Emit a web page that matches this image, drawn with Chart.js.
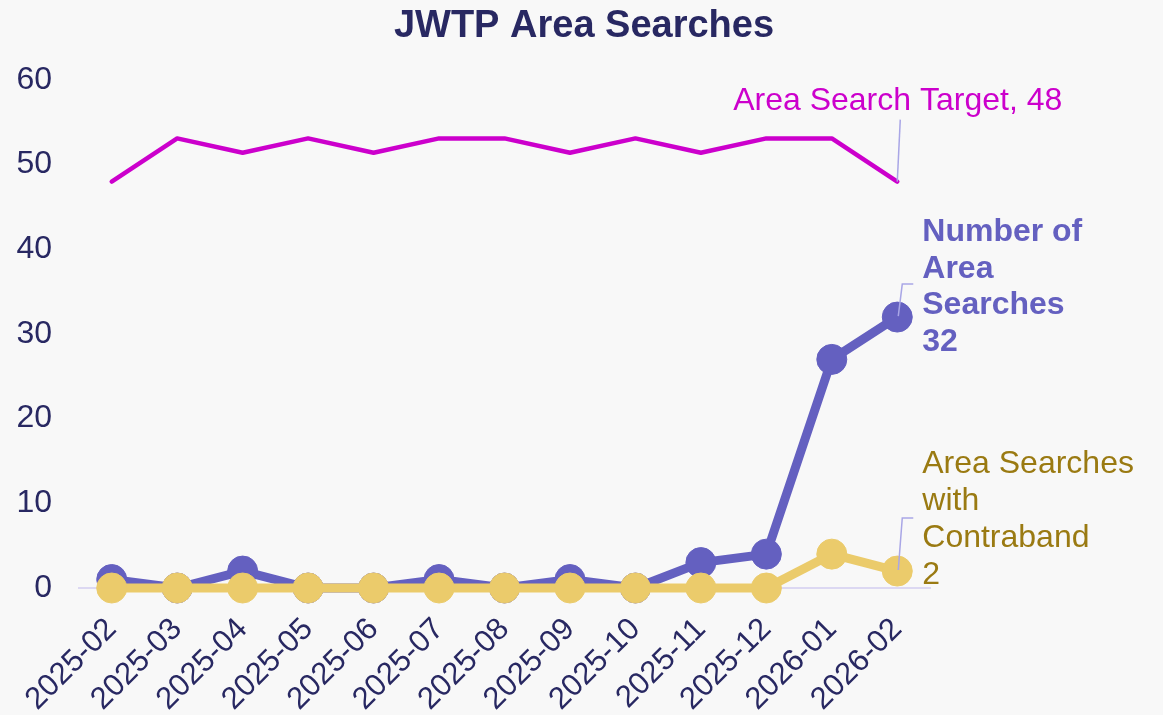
<!DOCTYPE html>
<html>
<head>
<meta charset="utf-8">
<script src="https://cdn.jsdelivr.net/npm/chart.js@4"></script>
<style>
html,body{margin:0;padding:0;background:#f8f8f8;}
#wrap{width:1163px;height:715px;}
</style>
</head>
<body>
<div id="wrap"><canvas id="c" width="1163" height="715"></canvas></div>
<script>
const categories = ['2025-02','2025-03','2025-04','2025-05','2025-06','2025-07','2025-08','2025-09','2025-10','2025-11','2025-12','2026-01','2026-02'];
const targetValues = [48, 53.1, 51.4, 53.1, 51.4, 53.1, 53.1, 51.4, 53.1, 51.4, 53.1, 53.1, 48];
const searchValues = [1, 0, 2, 0, 0, 1, 0, 1, 0, 3, 4, 27, 32];
const contrabandValues = [0, 0, 0, 0, 0, 0, 0, 0, 0, 0, 0, 4, 2];
const yTicks = [0, 10, 20, 30, 40, 50, 60];

const NAVY = '#282862';
const MAGENTA = '#cc00cc';
const PURPLE = '#6460c0';
const YELLOW = '#ebcb6b';
const GOLD = '#9a7a12';
const LEADER = '#a9a6e6';
const FONT = '"Liberation Sans", Arial, sans-serif';

const bgPlugin = {
  id: 'bg',
  beforeDraw(chart) {
    const ctx = chart.ctx;
    ctx.save();
    ctx.fillStyle = '#f8f8f8';
    ctx.fillRect(0, 0, chart.width, chart.height);
    ctx.restore();
  }
};

const titlePlugin = {
  id: 'customTitle',
  afterDraw(chart) {
    const ctx = chart.ctx;
    ctx.save();
    ctx.font = 'bold 38px ' + FONT;
    ctx.fillStyle = NAVY;
    ctx.textAlign = 'center';
    ctx.textBaseline = 'alphabetic';
    ctx.fillText('JWTP Area Searches', 584, 37);
    ctx.restore();
  }
};

function lastPoint(chart, idx) {
  const meta = chart.getDatasetMeta(idx);
  const el = meta.data[meta.data.length - 1];
  return {x: el.x, y: el.y};
}

const annotPlugin = {
  id: 'endLabels',
  afterDatasetsDraw(chart) {
    const ctx = chart.ctx;
    ctx.save();
    ctx.lineWidth = 1.5;
    ctx.strokeStyle = LEADER;
    // target
    let p = lastPoint(chart, 2);
    ctx.beginPath();
    ctx.moveTo(p.x, p.y);
    ctx.lineTo(p.x + 3, p.y - 62);
    ctx.stroke();
    ctx.font = '32px ' + FONT;
    ctx.fillStyle = MAGENTA;
    ctx.textAlign = 'right';
    ctx.textBaseline = 'alphabetic';
    ctx.fillText('Area Search Target, ' + targetValues[targetValues.length - 1], p.x + 165, p.y - 72);

    // searches
    p = lastPoint(chart, 1);
    ctx.beginPath();
    ctx.moveTo(p.x + 1, p.y - 1);
    ctx.lineTo(p.x + 5, p.y - 33);
    ctx.lineTo(p.x + 16, p.y - 33);
    ctx.stroke();
    ctx.font = 'bold 32px ' + FONT;
    ctx.fillStyle = PURPLE;
    ctx.textAlign = 'left';
    const l1 = ['Number of', 'Area', 'Searches', String(searchValues[searchValues.length - 1])];
    l1.forEach((t, i) => ctx.fillText(t, p.x + 25, p.y - 76 + i * 36.7));

    // contraband
    p = lastPoint(chart, 0);
    ctx.beginPath();
    ctx.moveTo(p.x + 1, p.y - 1);
    ctx.lineTo(p.x + 5, p.y - 53);
    ctx.lineTo(p.x + 16, p.y - 53);
    ctx.stroke();
    ctx.font = '32px ' + FONT;
    ctx.fillStyle = GOLD;
    const l2 = ['Area Searches', 'with', 'Contraband', String(contrabandValues[contrabandValues.length - 1])];
    l2.forEach((t, i) => ctx.fillText(t, p.x + 25, p.y - 98 + i * 37));
    ctx.restore();
  }
};

new Chart(document.getElementById('c'), {
  type: 'line',
  data: {
    labels: categories,
    datasets: [
      {
        label: 'Area Searches with Contraband',
        data: contrabandValues,
        borderColor: YELLOW,
        backgroundColor: YELLOW,
        borderWidth: 9,
        pointRadius: 15,
        pointBorderWidth: 1,
        pointBorderColor: YELLOW,
        pointBackgroundColor: YELLOW,
        borderJoinStyle: 'round',
        borderCapStyle: 'round',
        clip: false,
        order: 0
      },
      {
        label: 'Number of Area Searches',
        data: searchValues,
        borderColor: PURPLE,
        backgroundColor: PURPLE,
        borderWidth: 9,
        pointRadius: 15,
        pointBorderWidth: 1,
        pointBorderColor: PURPLE,
        pointBackgroundColor: PURPLE,
        borderJoinStyle: 'round',
        borderCapStyle: 'round',
        clip: false,
        order: 1
      },
      {
        label: 'Area Search Target',
        data: targetValues,
        borderColor: MAGENTA,
        backgroundColor: MAGENTA,
        borderWidth: 4.5,
        pointRadius: 0,
        borderJoinStyle: 'round',
        borderCapStyle: 'round',
        clip: false,
        order: 2
      }
    ]
  },
  options: {
    responsive: false,
    animation: false,
    devicePixelRatio: 1,
    layout: { padding: { top: 80, right: 233, bottom: 0, left: 0 } },
    plugins: {
      legend: { display: false },
      title: { display: false },
      tooltip: { enabled: false }
    },
    scales: {
      x: {
        type: 'category',
        offset: true,
        grid: { display: false, drawTicks: false },
        border: { display: true, color: '#dcd8f2', width: 2 },
        ticks: {
          color: NAVY,
          font: { family: FONT, size: 31 },
          minRotation: 45,
          maxRotation: 45,
          padding: 23,
          autoSkip: false
        },
        afterFit(scale) { scale.height = 127; }
      },
      y: {
        min: 0,
        max: 60,
        grid: { display: false, drawTicks: false },
        border: { display: false },
        afterBuildTicks(scale) { scale.ticks = yTicks.map(v => ({value: v})); },
        ticks: {
          color: NAVY,
          font: { family: FONT, size: 32 },
          padding: 27
        },
        afterFit(scale) { scale.width = 79; }
      }
    }
  },
  plugins: [bgPlugin, titlePlugin, annotPlugin]
});
</script>
</body>
</html>
